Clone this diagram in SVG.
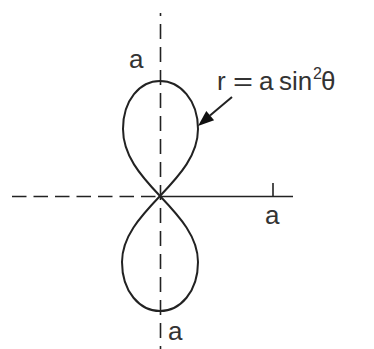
<svg xmlns="http://www.w3.org/2000/svg" width="374" height="349" viewBox="0 0 374 349">
  <style>
    .axis { stroke: #222; stroke-width: 1.6; fill: none; }
    .dash-h { stroke-dasharray: 14.5 7; }
    .dash-v { stroke-dasharray: 15 8; stroke-dashoffset: 12; }
    .curve { stroke: #222; stroke-width: 2; fill: none; }
    .lbl { font-family: "Liberation Sans", Arial, Helvetica, sans-serif; font-size: 26px; fill: #333; }
  </style>
  <rect width="374" height="349" fill="#fff"/>
  <g id="axes">
    <line class="axis dash-h" x1="12" y1="196.5" x2="160" y2="196.5"/>
    <line class="axis" x1="160" y1="196.5" x2="293" y2="196.5"/>
    <line class="axis" x1="273" y1="183" x2="273" y2="196.5"/>
    <line class="axis dash-v" x1="160.5" y1="13" x2="160.5" y2="349"/>
  </g>
  <g id="curve">
    <path class="curve" d="M160,196 C140,175 123,155 123,129 C123,100 140,81 160,81 C180,81 198,100 198,129 C198,155 180,175 160,196 Z"/>
    <path class="curve" d="M160,196 C140,217 122,237 122,262 C122,292 140,311 160,311 C180,311 198,292 198,262 C198,237 180,217 160,196 Z"/>
  </g>
  <g id="connectors">
    <line x1="232" y1="97" x2="210" y2="115.6" stroke="#222" stroke-width="2"/>
    <path d="M198,126 L206.3,111 L214.1,120.2 Z" fill="#111"/>
  </g>
  <g id="labels">
    <text class="lbl" x="129" y="68">a</text>
    <text class="lbl" x="265" y="224">a</text>
    <text class="lbl" x="168" y="340">a</text>
    <text class="lbl" x="217" y="90">r<tspan x="233" textLength="20" lengthAdjust="spacingAndGlyphs">=</tspan><tspan x="259">a</tspan><tspan x="279">sin</tspan><tspan x="313" dy="-11" font-size="16">2</tspan><tspan x="321" dy="11">θ</tspan></text>
  </g>
</svg>
